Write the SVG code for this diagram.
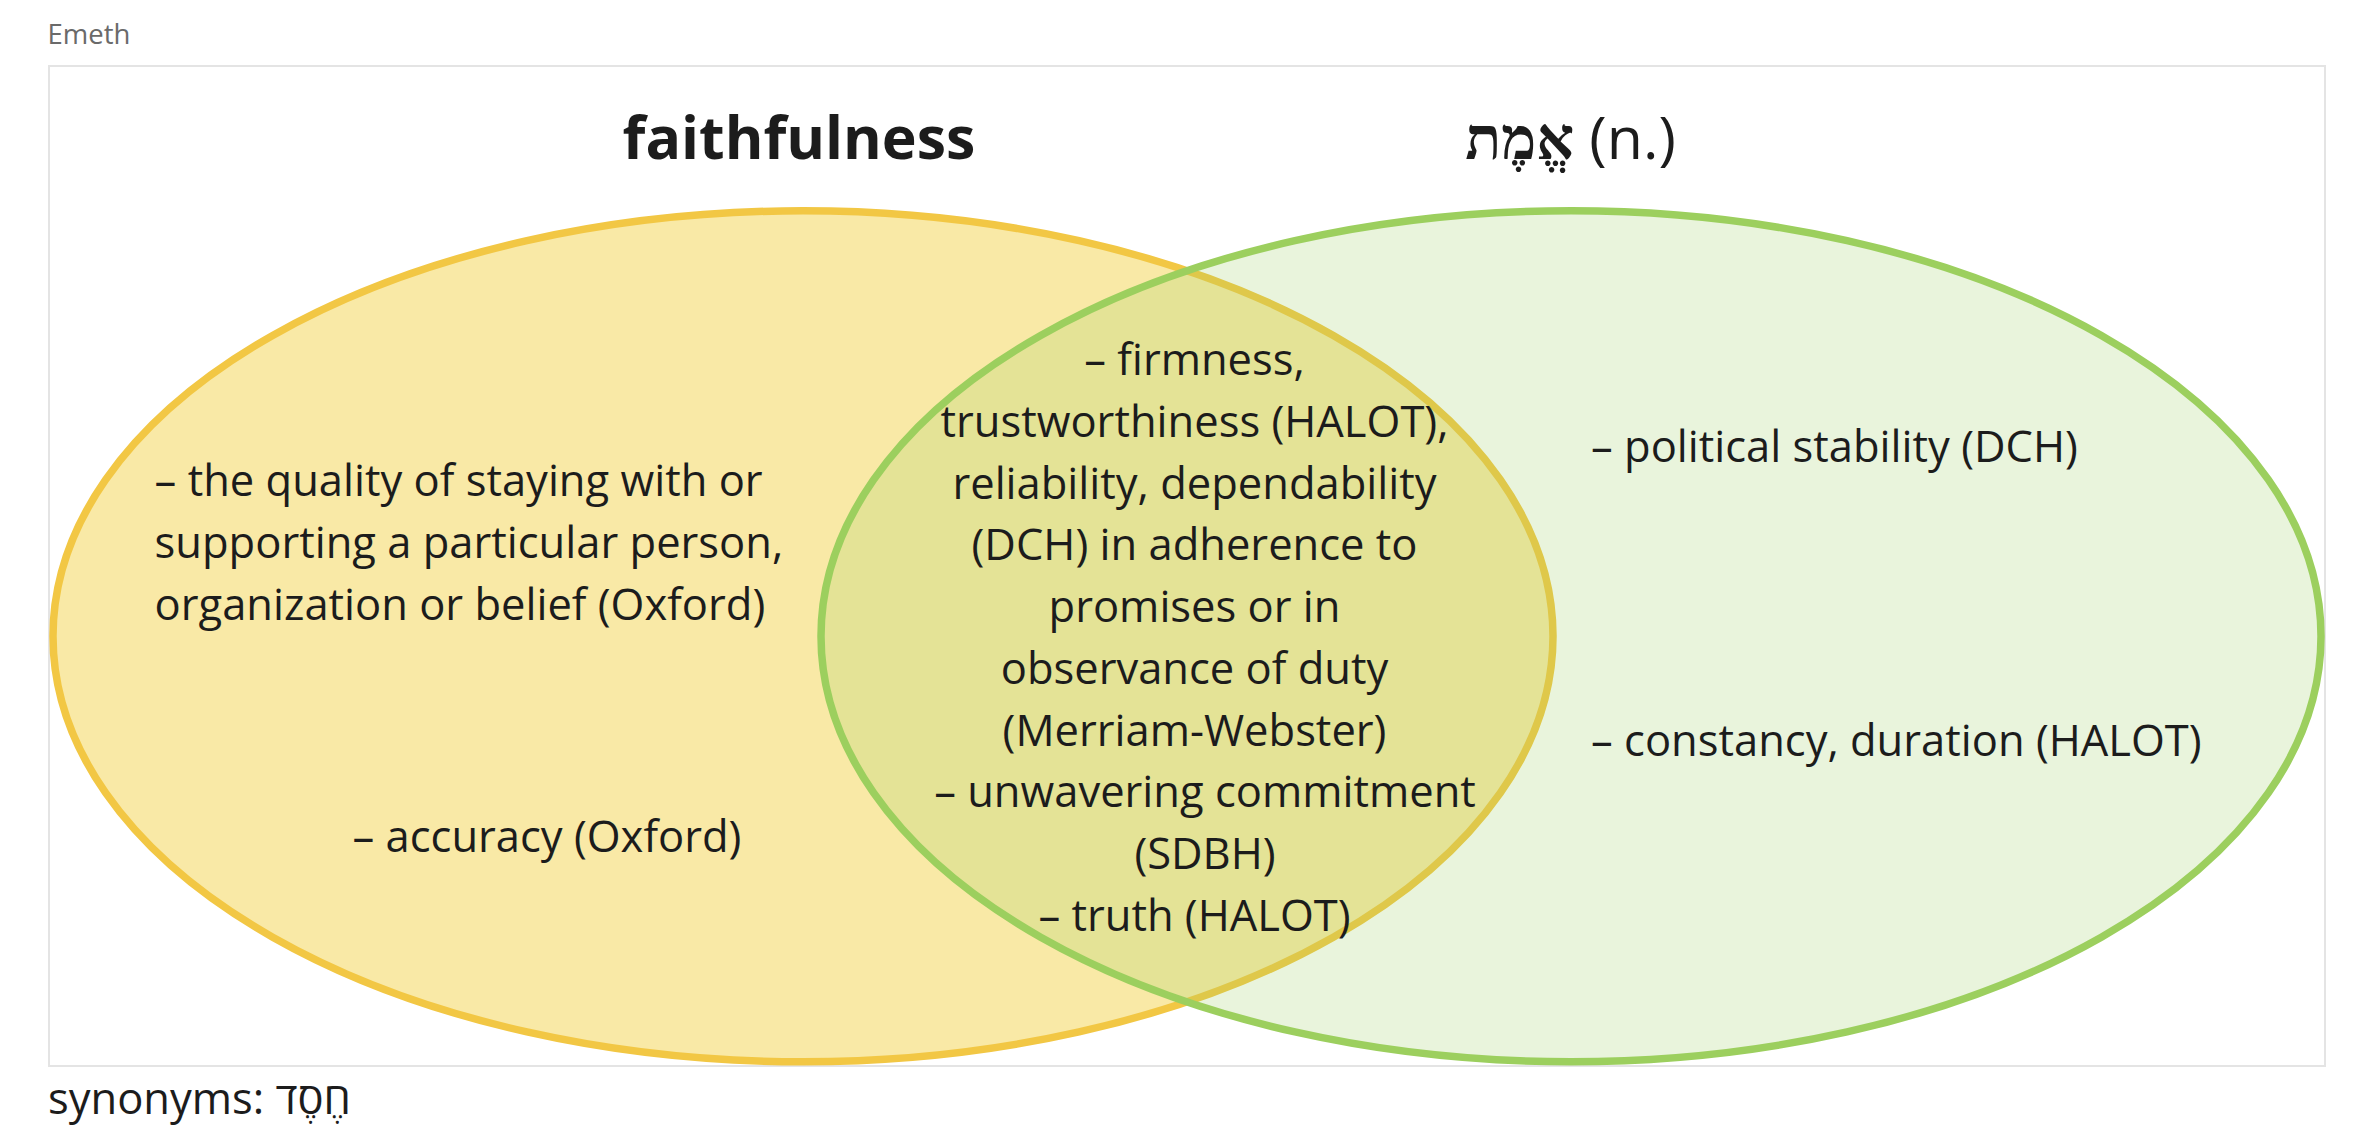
<svg xmlns="http://www.w3.org/2000/svg" width="2370" height="1144" viewBox="0 0 2370 1144">
<style>
  .t { font-family: "Open Sans", "Noto Sans", "DejaVu Sans", sans-serif; font-size: 43.5px; fill: #1c1c1c; }
  .title { font-family: "Open Sans", "Noto Sans", sans-serif; font-size: 59px; fill: #1c1c1c; }
  .he { font-family: "Liberation Serif", "FreeSerif", "Noto Serif Hebrew", "Times New Roman", serif; font-weight: bold; }
  .mid { text-anchor: middle; }
</style>
<rect width="2370" height="1144" fill="#ffffff"/>
<text x="47.5" y="44.3" style="font-family:'Open Sans','Noto Sans',sans-serif;font-size:27.5px;fill:#6a6a6a">Emeth</text>
<rect id="frame" x="49" y="66" width="2276" height="1000" fill="none" stroke="#e4e4e4" stroke-width="2"/>
<g id="set-faithfulness">
  <ellipse cx="803" cy="636.3" rx="750" ry="425.5" fill="#f9e9a6" stroke="#f2c744" stroke-width="7.5"/>
</g>
<g id="set-emeth">
  <ellipse cx="1571" cy="636.3" rx="750" ry="425.5" fill="#9ccf5e" fill-opacity="0.22" stroke="#9ccf5e" stroke-width="7.5"/>
</g>
<g id="connectors"></g>
<g id="label-faithfulness">
  <text class="title mid" x="799" y="159.3" font-weight="bold">faithfulness</text>
</g>
<g id="label-emeth">
  <text class="title mid" x="1570.5" y="159.3"><tspan class="he">אֱמֶת</tspan> (n.)</text>
</g>
<g id="node-faithfulness-only">
  <text class="t" x="154.6" y="496">– the quality of staying with or</text>
  <text class="t" x="154.6" y="558">supporting a particular person,</text>
  <text class="t" x="154.6" y="620">organization or belief (Oxford)</text>
  <text class="t" x="352.5" y="851.7">– accuracy (Oxford)</text>
</g>
<g id="node-overlap">
  <text class="t mid" x="1194.5" y="375">– firmness,</text>
  <text class="t mid" x="1194.5" y="436.75">trustworthiness (HALOT),</text>
  <text class="t mid" x="1194.5" y="498.5">reliability, dependability</text>
  <text class="t mid" x="1194.5" y="560.25">(DCH) in adherence to</text>
  <text class="t mid" x="1194.5" y="622">promises or in</text>
  <text class="t mid" x="1194.5" y="683.75">observance of duty</text>
  <text class="t mid" x="1194.5" y="745.5">(Merriam-Webster)</text>
  <text class="t mid" x="1205" y="807.25">– unwavering commitment</text>
  <text class="t mid" x="1205" y="869">(SDBH)</text>
  <text class="t mid" x="1194.5" y="930.75">– truth (HALOT)</text>
</g>
<g id="node-emeth-only">
  <text class="t" x="1591" y="461.7">– political stability (DCH)</text>
  <text class="t" x="1591" y="756">– constancy, duration (HALOT)</text>
</g>
<g id="synonyms">
  <text class="t" x="48" y="1114.3">synonyms: <tspan>חֶסֶד</tspan></text>
</g>
</svg>
